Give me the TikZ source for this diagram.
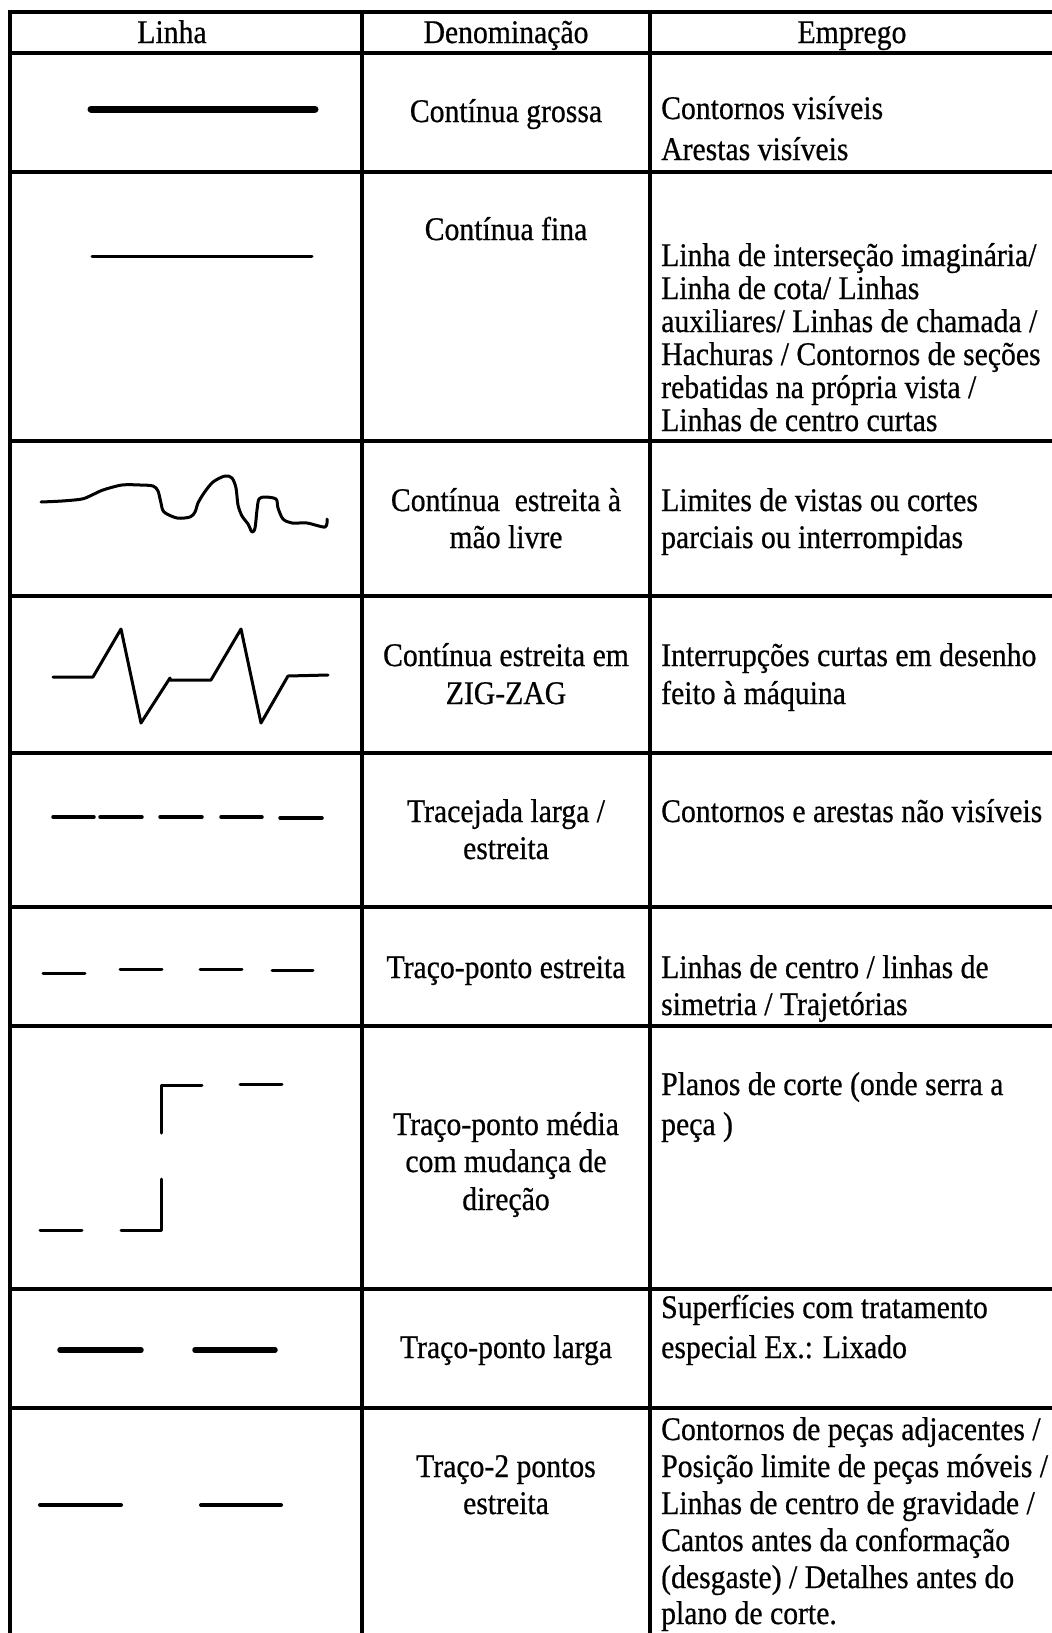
\documentclass[tikz,border=0pt]{standalone}
\usepackage{fontspec}
\setmainfont{Liberation Serif}[FakeStretch=0.9, FakeBold=0.6]
\begin{document}
\begin{tikzpicture}[x=1pt,y=-1pt,
  gridline/.style={line width=4pt, line cap=rect},
  mid/.style={font=\fontsize{33}{36}\selectfont, inner sep=0pt, anchor=base},
  lft/.style={font=\fontsize{33}{36}\selectfont, inner sep=0pt, anchor=base west},
  smp/.style={line width=3pt, line cap=round, line join=round},
  heavy/.style={line width=7pt, line cap=round},
  medium/.style={line width=5.5pt, line cap=round},
  dsh/.style={line width=3.5pt, line cap=round}]
\useasboundingbox (0,0) rectangle (1052,1633);
\fill[white] (0,0) rectangle (1052,1633);
% grid
\foreach \yy in {12,53,172,441,596,753,907,1026,1289,1408}
  \draw[gridline] (10,\yy) -- (1054,\yy);
\foreach \xx in {10,362,650}
  \draw[gridline] (\xx,12) -- (\xx,1640);
% header
\node[mid] (h1) at (172,43) {Linha};
\node[mid] (h2) at (506,43) {Denominação};
\node[mid] (h3) at (852,43) {Emprego};
% row 1
\draw[heavy] (91,109) -- (315,109);
\node[mid] (d1) at (506,122) {Contínua grossa};
\node[lft] (e1a) at (661,119) {Contornos visíveis};
\node[lft] (e1b) at (661,160) {Arestas visíveis};
% row 2
\draw[smp] (92,256) -- (312,256);
\node[mid] (d2) at (506,240) {Contínua fina};
\node[lft] (e2a) at (661,266) {Linha de interseção imaginária/};
\node[lft] (e2b) at (661,299) {Linha de cota/ Linhas};
\node[lft] (e2c) at (661,332) {auxiliares/ Linhas de chamada /};
\node[lft] (e2d) at (661,365) {Hachuras / Contornos de seções};
\node[lft] (e2e) at (661,398) {rebatidas na própria vista /};
\node[lft] (e2f) at (661,431) {Linhas de centro curtas};
% row 3
\draw[smp] plot[smooth, tension=0.5] coordinates {(41,502) (62,501) (82,499) (92,495) (103,490) (122,485) (140,485) (153,486) (158,491) (161,503) (164,512) (177,518) (190,517) (195,512) (198,503) (204,493) (213,482) (225,476) (232,478) (236,488) (238,505) (242,516) (248,524) (252,532) (255,528) (257,510) (259,499) (265,497) (276,499) (278,508) (283,519) (292,523) (307,523) (325,527) (327,519)};
\node[mid] (d3a) at (506,511) {Contínua~ estreita à};
\node[mid] (d3b) at (506,548) {mão livre};
\node[lft] (e3a) at (661,511) {Limites de vistas ou cortes};
\node[lft] (e3b) at (661,548) {parciais ou interrompidas};
% row 4
\draw[smp] (53,677) -- (93,677) -- (121,629) -- (141,723) -- (170,678) -- (170,680) -- (211,680) -- (241,629) -- (261,723) -- (288,676) -- (328,675);
\node[mid] (d4a) at (506,666) {Contínua estreita em};
\node[mid] (d4b) at (506,704) {ZIG-ZAG};
\node[lft] (e4a) at (661,666) {Interrupções curtas em desenho};
\node[lft] (e4b) at (661,704) {feito à máquina};
% row 5
\draw[dsh] (53,817) -- (94,817);
\draw[dsh] (100,817) -- (142,817);
\draw[dsh] (160,817) -- (202,817);
\draw[dsh] (221,817) -- (262,817);
\draw[dsh] (280,818) -- (322,818);
\node[mid] (d5a) at (506,822) {Tracejada larga /};
\node[mid] (d5b) at (506,859) {estreita};
\node[lft] (e5a) at (661,822) {Contornos e arestas não visíveis};
% row 6
\draw[smp] (43,973) -- (85,973);
\draw[smp] (120,969) -- (162,969);
\draw[smp] (200,969) -- (242,969);
\draw[smp] (272,970) -- (313,970);
\node[mid] (d6) at (506,978) {Traço-ponto estreita};
\node[lft] (e6a) at (661,978) {Linhas de centro / linhas de};
\node[lft] (e6b) at (661,1015) {simetria / Trajetórias};
% row 7
\draw[smp] (202,1085) -- (161,1085) -- (161,1133);
\draw[smp] (240,1084) -- (282,1084);
\draw[smp] (161,1179) -- (161,1230) -- (121,1230);
\draw[smp] (40,1230) -- (82,1230);
\node[mid] (d7a) at (506,1135) {Traço-ponto média};
\node[mid] (d7b) at (506,1172) {com mudança de};
\node[mid] (d7c) at (506,1210) {direção};
\node[lft] (e7a) at (661,1095) {Planos de corte (onde serra a};
\node[lft] (e7b) at (661,1135) {peça )};
% row 8
\draw[medium] (60,1350) -- (141,1350);
\draw[medium] (195,1350) -- (275,1350);
\node[mid] (d8) at (506,1358) {Traço-ponto larga};
\node[lft] (e8a) at (661,1318) {Superfícies com tratamento};
\node[lft] (e8b) at (661,1358) {especial Ex.: Lixado};
% row 9
\draw[line width=4pt, line cap=round] (40,1505) -- (121,1505);
\draw[line width=4pt, line cap=round] (201,1505) -- (281,1505);
\node[mid] (d9a) at (506,1477) {Traço-2 pontos};
\node[mid] (d9b) at (506,1514) {estreita};
\node[lft] (e9a) at (661,1440) {Contornos de peças adjacentes /};
\node[lft] (e9b) at (661,1477) {Posição limite de peças móveis /};
\node[lft] (e9c) at (661,1514) {Linhas de centro de gravidade /};
\node[lft] (e9d) at (661,1551) {Cantos antes da conformação};
\node[lft] (e9e) at (661,1588) {(desgaste) / Detalhes antes do};
\node[lft] (e9f) at (661,1624) {plano de corte.};
\end{tikzpicture}
\end{document}
